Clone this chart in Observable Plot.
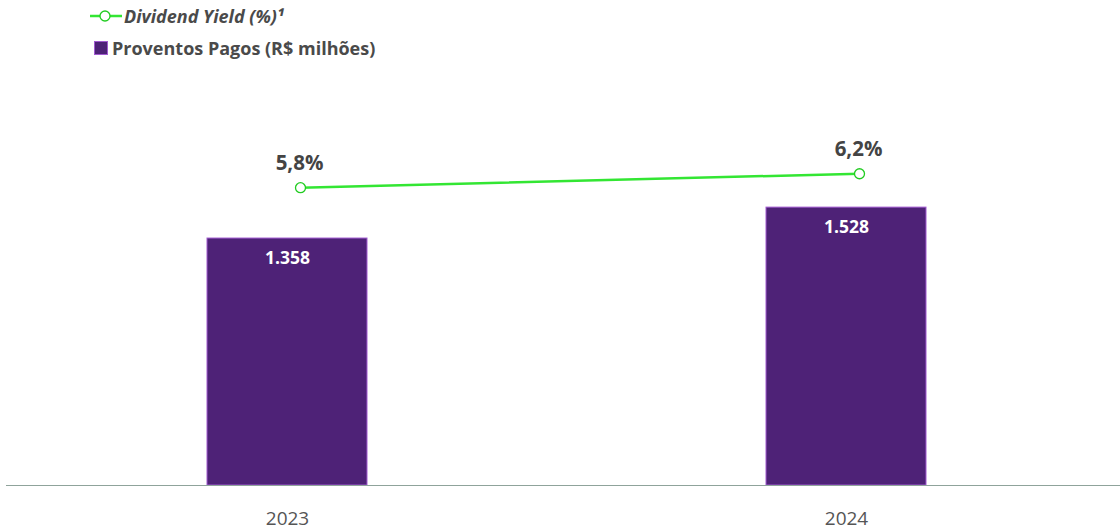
<!DOCTYPE html>
<html>
<head>
<meta charset="utf-8">
<script src="https://cdn.jsdelivr.net/npm/d3@7"></script>
<script src="https://cdn.jsdelivr.net/npm/@observablehq/plot@0.6"></script>
<style>
  html, body { margin: 0; padding: 0; background: #fff; }
  body { width: 1120px; height: 531px; overflow: hidden; font-family: "Open Sans", sans-serif; }
  #legend { position: relative; height: 70px; }
  .item { position: absolute; display: flex; align-items: center; font-size: 18px; font-weight: 700; color: #4a4a4a; white-space: nowrap; }
  #chart svg { display: block; }
</style>
</head>
<body>
<div id="legend">
  <div class="item" style="left:89px; top:4px;">
    <svg width="34" height="14" style="margin-right:1px"><line x1="1" y1="7" x2="33" y2="7" stroke="#33e633" stroke-width="2.5"/><circle cx="16" cy="7" r="5" fill="#fff" stroke="#22cc22" stroke-width="1.3"/></svg>
    <span style="font-style:italic">Dividend Yield (%)¹</span>
  </div>
  <div class="item" style="left:94px; top:36px;">
    <svg width="14" height="14" style="margin-right:4px"><rect x="0.5" y="0.5" width="13" height="13" fill="#4e2277" stroke="#a15ad0" stroke-width="1"/></svg>
    <span>Proventos Pagos (R$ milhões)</span>
  </div>
</div>
<div id="chart"></div>
<script>
const years = ["2023", "2024"];
const proventos = [1358, 1528];
const dividendYield = [5.8, 6.2];

const br = d3.formatLocale({decimal: ",", thousands: ".", grouping: [3], currency: ["R$", ""]});
const fmtInt = br.format(",d");
const fmtPct = v => br.format(".1f")(v) + "%";

const yMax = 2282;
// secondary (yield) axis mapped onto the bar axis
const yieldToBar = d3.scaleLinear().domain([-2.71, 9.15]).range([0, yMax]);

const data = years.map((y, i) => ({year: y, value: proventos[i], yld: dividendYield[i], yPos: yieldToBar(dividendYield[i])}));

const chart = Plot.plot({
  width: 1120,
  height: 461,
  marginTop: 0,
  marginLeft: 6,
  marginRight: 0,
  marginBottom: 46,
  style: {fontFamily: "Open Sans, sans-serif", background: "#fff"},
  x: {domain: years, range: [206, 926], paddingInner: 0.714, paddingOuter: 0, label: null},
  y: {domain: [0, yMax], axis: null},
  marks: [
    Plot.barY(data, {x: "year", y: "value", fill: "#4e2277", stroke: "#a15ad0", strokeWidth: 1}),
    Plot.ruleY([0], {stroke: "#8fa39b", strokeWidth: 1.2}),
    Plot.text(data, {x: "year", y: "value", text: d => fmtInt(d.value), dy: 20, fill: "#fff", fontSize: 17.5, fontWeight: 700}),
    Plot.line(data, {x: "year", y: "yPos", dx: 13, stroke: "#33e633", strokeWidth: 2.5}),
    Plot.dot(data, {x: "year", y: "yPos", dx: 13, r: 5, fill: "#fff", stroke: "#22cc22", strokeWidth: 1.3}),
    Plot.text(data, {x: "year", y: "yPos", dx: 12, dy: -24, text: d => fmtPct(d.yld), fill: "#444", fontSize: 20.5, fontWeight: 700}),
    Plot.axisX({tickSize: 0, tickPadding: 0, dy: 26, fontSize: 19, fill: "#555", label: null})
  ]
});
document.getElementById("chart").appendChild(chart);
</script>
</body>
</html>
